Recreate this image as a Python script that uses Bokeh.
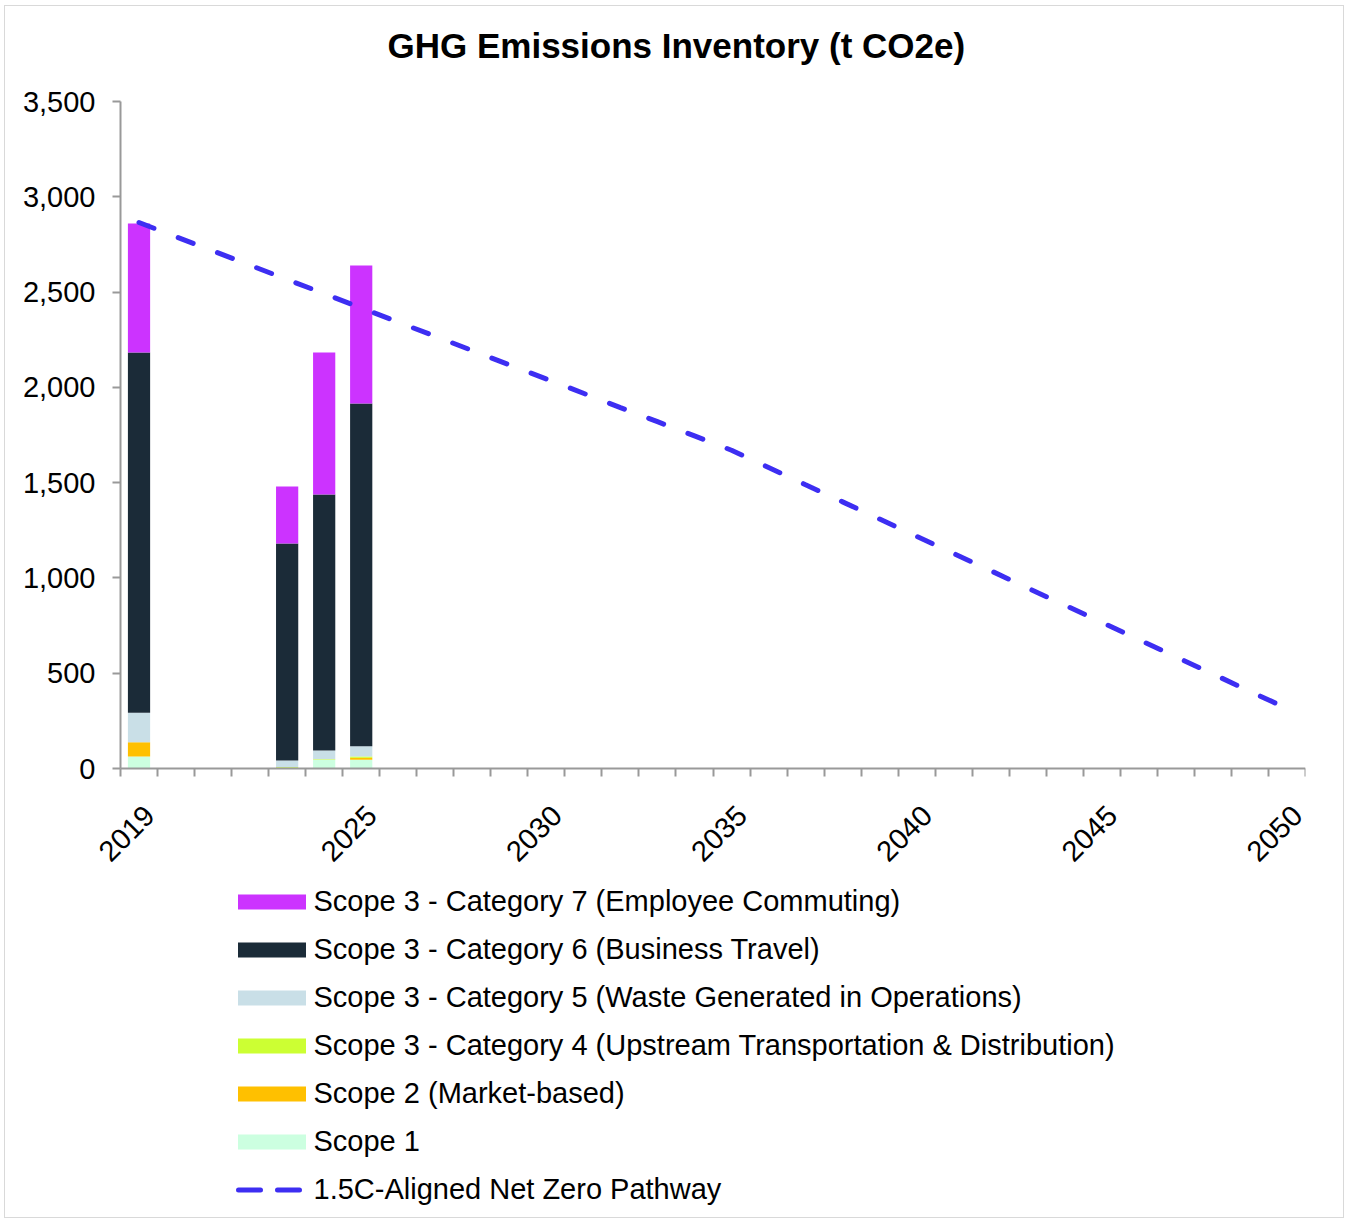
import math
from bokeh.plotting import figure
from bokeh.models import (ColumnDataSource, FixedTicker, NumeralTickFormatter, Legend,
                          LegendItem, Range1d, Title)
from bokeh.embed import file_html
from bokeh.resources import INLINE

# ---- data ----
bar_years = [2019, 2023, 2024, 2025]
scope1 = [63, 2, 46, 46]
scope2 = [75, 0, 0, 10]
cat4 = [0, 5, 3, 7]
cat5 = [154, 35, 45, 54]
cat6 = [1891, 1139, 1344, 1798]
cat7 = [677, 299, 745, 725]

path_years = [2019, 2020, 2021, 2022, 2023, 2024, 2025, 2026, 2027, 2028, 2029,
              2030, 2031, 2032, 2033, 2034, 2035, 2036, 2037, 2038, 2039, 2040,
              2041, 2042, 2043, 2044, 2045, 2046, 2047, 2048, 2049, 2050]
pathway = [2865, 2790, 2716, 2641, 2566, 2492, 2417, 2342, 2268, 2193, 2118,
           2044, 1969, 1894, 1820, 1745, 1670, 1580, 1489, 1399, 1309, 1218,
           1128, 1038, 947, 857, 767, 676, 586, 496, 405, 315]

label_years = [2019, 2025, 2030, 2035, 2040, 2045, 2050]
y_ticks = [0, 500, 1000, 1500, 2000, 2500, 3000, 3500]

series_names = ["Scope 1", "Scope 2 (Market-based)",
                "Scope 3 - Category 4 (Upstream Transportation & Distribution)",
                "Scope 3 - Category 5 (Waste Generated in Operations)",
                "Scope 3 - Category 6 (Business Travel)",
                "Scope 3 - Category 7 (Employee Commuting)"]
line_name = "1.5C-Aligned Net Zero Pathway"
colors = ["#CCFFE0", "#FFC000", "#CCFF33", "#C9DFE7", "#1B2B38", "#CC33FF"]
line_color = "#3D2EF2"

FONT = "Liberation Sans"

# ---- layout (page pixels) ----
W, H = 1340, 1213
CANVAS_X0, CANVAS_Y0 = 5, 6          # margin + border
AX_L, AX_R = 120, 1305               # x-axis extent
AX_TOP, AX_ZERO = 101, 768           # y of 3500 and of 0
FRAME_L, FRAME_T, FRAME_B = 10, 80, 1215
TITLE_L = 387
Y_MAX = 3500

first, last = path_years[0], path_years[-1]
ppy = (AX_R - AX_L) / (last - first + 1)
upp = Y_MAX / (AX_ZERO - AX_TOP)
x_start = first - 0.5 - (AX_L - FRAME_L) / ppy
x_end = last + 0.5
y_end = Y_MAX + (AX_TOP - FRAME_T) * upp
y_start = -(FRAME_B - AX_ZERO) * upp

keys = ["s1", "s2", "c4", "c5", "c6", "c7"]
src = ColumnDataSource(dict(year=bar_years, s1=scope1, s2=scope2, c4=cat4,
                            c5=cat5, c6=cat6, c7=cat7))
lsrc = ColumnDataSource(dict(year=path_years, v=pathway))

p = figure(width=W, height=H, output_backend="svg", toolbar_location=None,
           x_range=Range1d(x_start, x_end), y_range=Range1d(y_start, y_end),
           min_border_left=FRAME_L - CANVAS_X0,
           min_border_right=CANVAS_X0 + W - AX_R,
           min_border_top=FRAME_T - CANVAS_Y0,
           min_border_bottom=CANVAS_Y0 + H - FRAME_B)
p.styles = {"border": "1px solid #d9d9d9", "margin-left": "4px", "margin-top": "5px"}

p.title = Title(text="GHG Emissions Inventory (t CO2e)", align="left",
                text_font=FONT, text_font_size="35px", text_font_style="bold",
                text_color="#000000", standoff=FRAME_T + 8 - 56,
                offset=TITLE_L - FRAME_L)

renderers = p.vbar_stack(keys, x="year", width=0.6, source=src, color=colors,
                         line_width=0)
lr = p.line(x="year", y="v", source=lsrc, line_color=line_color, line_width=5,
            line_dash="16 26", line_cap="round")
# legend swatch for the pathway (same series, hidden; only its legend sample is shown)
lr_key = p.line(x="year", y="v", source=lsrc, line_color=line_color, line_width=5,
                line_dash="22 17", line_dash_offset=30, line_cap="round",
                visible=False)

p.xgrid.visible = False
p.ygrid.visible = False
p.outline_line_color = None

# x axis at y=0: boundary ticks as minor ticks, labels near selected years
LABEL_SHIFT = 0.28
xa = p.xaxis[0]
xa.fixed_location = 0
xa.bounds = (first - 0.5, last + 0.5)
xa.ticker = FixedTicker(ticks=[y + LABEL_SHIFT for y in label_years],
                        minor_ticks=[y - 0.5 for y in path_years] + [last + 0.5])
xa.major_label_overrides = {y + LABEL_SHIFT: str(y) for y in label_years}
xa.major_tick_line_color = None
xa.minor_tick_in = 0
xa.minor_tick_out = 8
xa.minor_tick_line_color = "#999999"
xa.minor_tick_line_width = 2
xa.axis_line_color = "#999999"
xa.axis_line_width = 2
xa.major_label_orientation = math.pi / 4
xa.major_label_text_font = FONT
xa.major_label_text_font_size = "29px"
xa.major_label_text_color = "#000000"
xa.major_label_standoff = 34

ya = p.yaxis[0]
ya.fixed_location = first - 0.5
ya.bounds = (0, Y_MAX)
ya.ticker = FixedTicker(ticks=y_ticks, minor_ticks=[])
ya.formatter = NumeralTickFormatter(format="0,0")
ya.major_tick_in = 0
ya.major_tick_out = 8
ya.major_tick_line_color = "#999999"
ya.major_tick_line_width = 2
ya.axis_line_color = "#999999"
ya.axis_line_width = 2
ya.major_label_text_font = FONT
ya.major_label_text_font_size = "29px"
ya.major_label_text_color = "#000000"
ya.major_label_standoff = 17

items = [LegendItem(label=series_names[i], renderers=[renderers[i]]) for i in range(5, -1, -1)]
items.append(LegendItem(label=line_name, renderers=[lr_key]))
legend = Legend(items=items, location=(228.5 - FRAME_L, FRAME_B - 1206),
                orientation="vertical", click_policy="none",
                glyph_width=85, glyph_height=19, label_height=34, spacing=14,
                label_standoff=0, padding=0, margin=0,
                label_text_font=FONT, label_text_font_size="29px",
                label_text_color="#000000", border_line_color=None,
                background_fill_alpha=0)
p.add_layout(legend, "center")

open("out.html", "w").write(file_html(p, INLINE))
